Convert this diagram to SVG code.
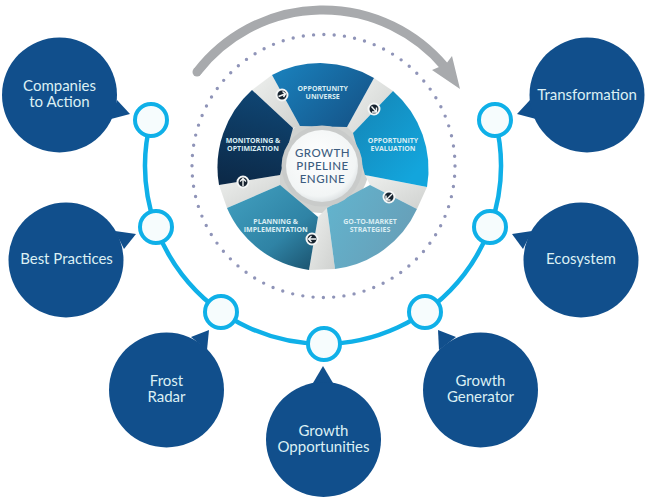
<svg xmlns="http://www.w3.org/2000/svg" width="648" height="500" viewBox="0 0 648 500">
<style>
.bub{fill:#114f8c}
.dot{fill:#f6fcfd;stroke:#0fb0e8;stroke-width:4}
.t{font-family:"Lato","Open Sans","Liberation Sans",sans-serif;font-size:15px;fill:#dcf0f4;text-anchor:middle}
.w{font-family:"Open Sans","Liberation Sans",sans-serif;font-size:7px;font-weight:700;fill:#d9edf3;text-anchor:middle}
.c{font-family:"Lato","Open Sans","Liberation Sans",sans-serif;font-size:11.5px;font-weight:500;letter-spacing:.5px;fill:#3d5d80;text-anchor:middle}
.band{fill:url(#gb)}
.btn{fill:#16222e;stroke:#f4f6f6;stroke-width:2}
.arr{fill:none;stroke:#f4f6f6;stroke-width:1.4}
</style>
<defs>
<linearGradient id="gb" x1="0" y1="0" x2="1" y2="1"><stop offset="0" stop-color="#eef0ee"/><stop offset="1" stop-color="#cfd1cf"/></linearGradient>
<linearGradient id="g1" x1="0" y1="0" x2="1" y2="0.6"><stop offset="0" stop-color="#1a83bf"/><stop offset="1" stop-color="#15578c"/></linearGradient>
<linearGradient id="g2" x1="0.2" y1="0" x2="0.9" y2="0.8"><stop offset="0" stop-color="#1487b8"/><stop offset="1" stop-color="#13a5dc"/></linearGradient>
<linearGradient id="g3" x1="0" y1="0" x2="1" y2="0.5"><stop offset="0" stop-color="#62b5cf"/><stop offset="1" stop-color="#679fb8"/></linearGradient>
<linearGradient id="g4" x1="0.1" y1="0.1" x2="0.9" y2="1"><stop offset="0" stop-color="#3f9cbc"/><stop offset="0.6" stop-color="#2f83a5"/><stop offset="1" stop-color="#1c5672"/></linearGradient>
<linearGradient id="g5" x1="0.6" y1="0" x2="0.4" y2="1"><stop offset="0" stop-color="#0f4674"/><stop offset="1" stop-color="#0c2a49"/></linearGradient>
<radialGradient id="gc" cx="0.45" cy="0.4" r="0.65"><stop offset="0" stop-color="#ffffff"/><stop offset="0.8" stop-color="#f2f5f5"/><stop offset="1" stop-color="#d5dadc"/></radialGradient>
</defs>

<g id="cycle-arrow">
<circle cx="323.5" cy="166" r="131.5" fill="none" stroke="#8f94b8" stroke-width="3.4" stroke-linecap="round" stroke-dasharray="0 10.33"/>
<path d="M197 72A159 159 0 0 1 445 67" fill="none" stroke="#a8aaad" stroke-width="9"/>
<circle cx="197" cy="72" r="4.5" fill="#a8aaad"/>
<polygon points="460,89 452,56 446,64 432,70" fill="#a8aaad"/>
</g>

<g id="connectors">
<path d="M151 120A178 178 0 1 0 495 120" fill="none" stroke="#0fb0e8" stroke-width="4.5"/>
</g>

<g id="wheel">
<circle cx="322" cy="166" r="47" fill="#d0d2d0"/>
<polygon class="band" points="252,90 272,75 300,126 293,128"/>
<polygon class="band" points="374,78 393,91 353,133 347,127"/>
<polygon class="band" points="427,187 417,209 370,185 365,175"/>
<polygon class="band" points="335,269 309,270 318,217 327,208"/>
<polygon class="band" points="227,208 219,185 280,175 280,185"/>
<path d="M272 75A104 104 0 0 1 374 78L347 127L300 126Z" fill="url(#g1)"/>
<path d="M393 91A104 104 0 0 1 427 187L365 175L353 133Z" fill="url(#g2)"/>
<path d="M417 209A104 104 0 0 1 335 269L327 208L370 185Z" fill="url(#g3)"/>
<path d="M309 270A104 104 0 0 1 227 208L280 185L318 217Z" fill="url(#g4)"/>
<path d="M219 185A104 104 0 0 1 252 90L293 128L280 175Z" fill="url(#g5)"/>
<circle cx="322" cy="166" r="40.500" fill="#c9cbca"/>
<circle cx="322" cy="166" r="36" fill="url(#gc)"/>
<text class="c" x="322.500" y="157">GROWTH</text>
<text class="c" x="322.500" y="170">PIPELINE</text>
<text class="c" x="322.500" y="182.500">ENGINE</text>
<text class="w" x="322.700" y="91">OPPORTUNITY</text>
<text class="w" x="322.700" y="99.300">UNIVERSE</text>
<text class="w" x="393" y="143">OPPORTUNITY</text>
<text class="w" x="393" y="151.300">EVALUATION</text>
<text class="w" x="370" y="224">GO-TO-MARKET</text>
<text class="w" x="370" y="232.300">STRATEGIES</text>
<text class="w" x="275.700" y="224">PLANNING &amp;</text>
<text class="w" x="275.700" y="232.300">IMPLEMENTATION</text>
<text class="w" x="253" y="143">MONITORING &amp;</text>
<text class="w" x="253" y="151.300">OPTIMIZATION</text>
<g id="wheel-arrows">
<circle class="btn" cx="282" cy="95" r="5.500"/><path class="arr" d="M278.500 96.500L285 94M282.500 91.500L285.500 94L283.500 97"/>
<circle class="btn" cx="374" cy="109" r="5.500"/><path class="arr" d="M371.500 106.500L376 111.500M376.500 107.500L376.500 112L372 112"/>
<circle class="btn" cx="389" cy="197" r="5.500"/><path class="arr" d="M392 194L386.500 199.500M386 195.500L386 200L390.500 200"/>
<circle class="btn" cx="312" cy="239" r="5.500"/><path class="arr" d="M316 239L308.500 239M311.500 236L308.500 239L311.500 242"/>
<circle class="btn" cx="243" cy="182" r="5.500"/><path class="arr" d="M243 186L243 178.500M240 181.500L243 178.500L246 181.500"/>
</g>
</g>

<g id="node-companies">
<path class="bub" d="M111 119L130 114L117 100Z"/><circle class="bub" cx="59.500" cy="95" r="57.500"/>
<circle class="dot" cx="151" cy="120" r="16"/>
<text class="t" x="59.500" y="91">Companies</text><text class="t" x="59.500" y="107">to Action</text>
</g>
<g id="node-best-practices">
<path class="bub" d="M115 231L136 234L124 249Z"/><circle class="bub" cx="66" cy="260" r="57.500"/>
<circle class="dot" cx="156" cy="227" r="16"/>
<text class="t" x="66.500" y="264">Best Practices</text>
</g>
<g id="node-frost-radar">
<path class="bub" d="M191 337L209 330L207 350Z"/><circle class="bub" cx="166.500" cy="390" r="57.500"/>
<circle class="dot" cx="221" cy="312" r="16"/>
<text class="t" x="166.500" y="385.500">Frost</text><text class="t" x="166.500" y="401.500">Radar</text>
</g>
<g id="node-growth-opportunities">
<path class="bub" d="M313 383L323 366L333 383Z"/><circle class="bub" cx="323.500" cy="439.500" r="57.500"/>
<circle class="dot" cx="324" cy="344" r="16"/>
<text class="t" x="323.500" y="435.500">Growth</text><text class="t" x="323.500" y="451.500">Opportunities</text>
</g>
<g id="node-growth-generator">
<path class="bub" d="M456 337L438 330L439 350Z"/><circle class="bub" cx="480.500" cy="390" r="57.500"/>
<circle class="dot" cx="425" cy="312" r="16"/>
<text class="t" x="480.500" y="385.500">Growth</text><text class="t" x="480.500" y="401.500">Generator</text>
</g>
<g id="node-ecosystem">
<path class="bub" d="M532 231L512 234L523 249Z"/><circle class="bub" cx="581" cy="260" r="57.500"/>
<circle class="dot" cx="490" cy="227" r="16"/>
<text class="t" x="581" y="264">Ecosystem</text>
</g>
<g id="node-transformation">
<path class="bub" d="M536 119L517 114L530 100Z"/><circle class="bub" cx="587" cy="95" r="57.500"/>
<circle class="dot" cx="495" cy="120" r="16"/>
<text class="t" x="587" y="100">Transformation</text>
</g>
</svg>
